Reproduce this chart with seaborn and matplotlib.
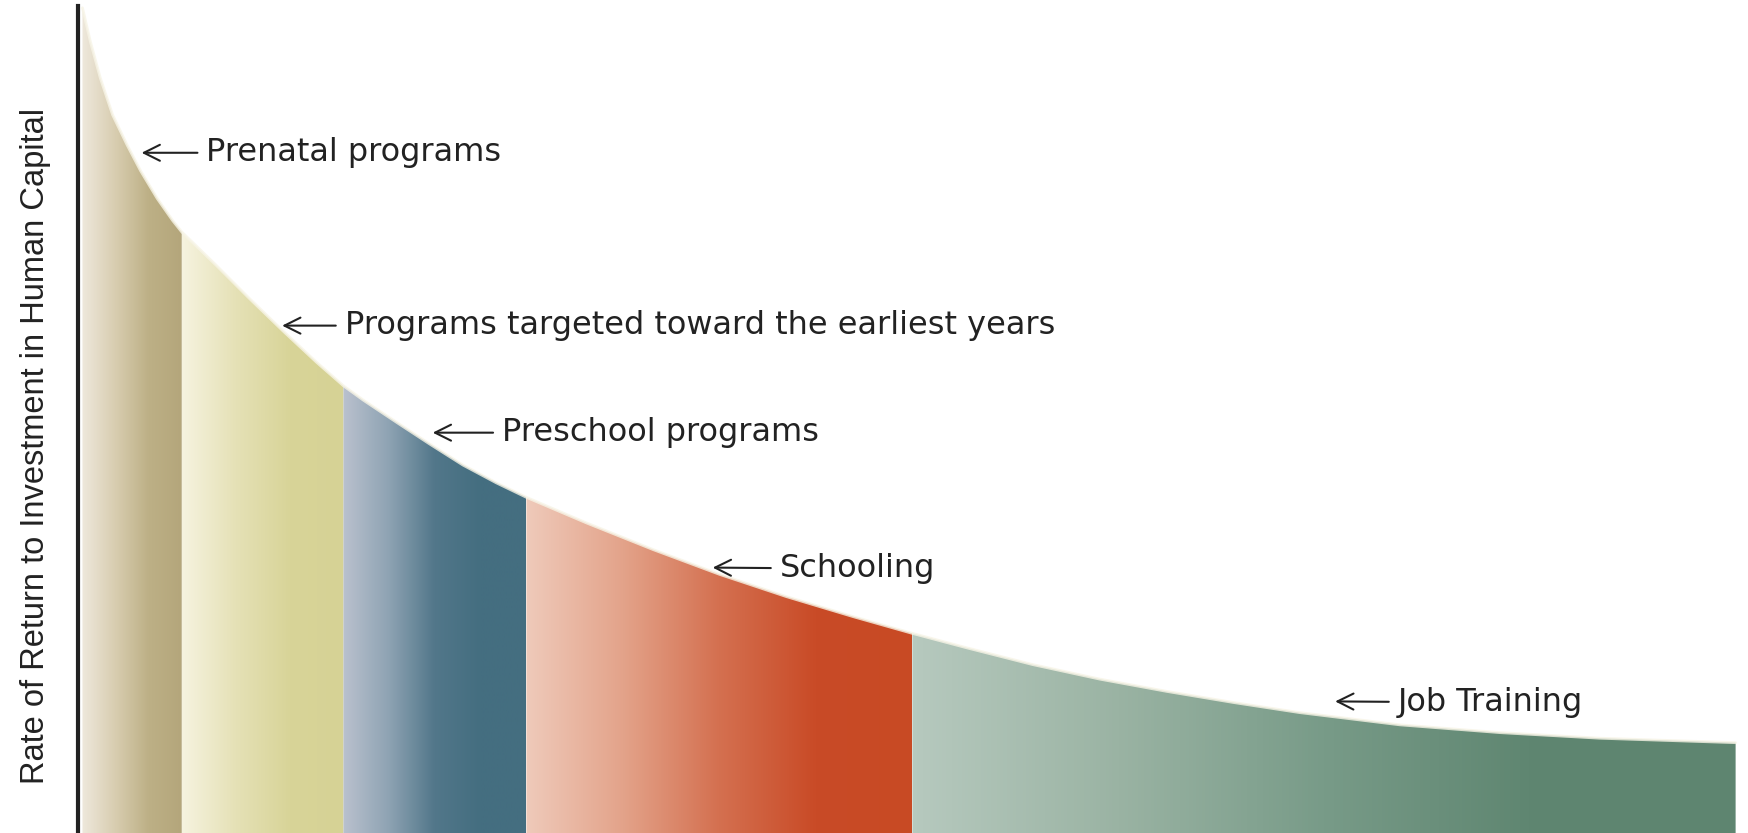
import numpy as np
import matplotlib
matplotlib.use("Agg")
import matplotlib.pyplot as plt
from matplotlib.colors import LinearSegmentedColormap
import seaborn as sns

# curve (x = age scale, y = rate of return), arbitrary units
curve_x = [4, 11, 20, 31, 44, 56, 71, 85, 93, 124, 154, 184, 214, 238, 256, 286, 315,
           345, 375, 402, 456, 516, 575, 635, 695, 748, 797, 856, 916, 976, 1036, 1095,
           1185, 1275, 1364, 1486]
curve_y = [740, 710, 677, 644, 617, 594, 569, 549, 539, 509, 479, 450, 422, 401, 388, 368,
           349, 330, 314, 301, 278, 254, 232, 212, 194, 179, 166, 151, 138, 127, 117, 108,
           97, 90, 85, 81]

# program bands: start / end along the x scale
band_names = ["Prenatal programs", "Programs targeted toward the earliest years",
              "Preschool programs", "Schooling", "Job Training"]
band_start = [4, 93, 238, 402, 748]
band_end = [93, 238, 402, 748, 1486]

band_colors = [
    ["#eee8dc", "#d8cdb0", "#bdb086", "#b4a67b"],
    ["#f6f3df", "#e5e1b6", "#d8d498", "#d6d295"],
    ["#bac1ce", "#8ea3b3", "#52778a", "#446e80", "#446e80"],
    ["#efcaba", "#e3a38a", "#d47050", "#c94b27", "#c84a24"],
    ["#b6c9be", "#9ab3a3", "#789b88", "#5f8671", "#5e8570"],
]

# label positions (arrow tip near the curve, text start)
label_tip = [(57, 610), (183, 455), (318, 359), (569, 238), (1127, 118)]
label_txt = [(115, 610), (239, 455), (380, 359), (629, 237), (1183, 117)]

sns.set_style("white")
fig = plt.figure(figsize=(17.49, 8.33), dpi=100)
ax = fig.add_axes([0.0446, 0.0, 0.9554, 0.9933])

cx = np.array(curve_x)
cy = np.array(curve_y)
grad = np.linspace(0, 1, 256).reshape(1, -1)

for name, x0, x1, cols in zip(band_names, band_start, band_end, band_colors):
    m = (cx >= x0) & (cx <= x1)
    poly = ax.fill_between(cx[m], 0, cy[m], color="none", lw=0)
    cmap = LinearSegmentedColormap.from_list(name, cols)
    img = ax.imshow(grad, cmap=cmap, extent=(x0, x1, 0, cy[m].max()),
                    aspect="auto", interpolation="bilinear", origin="lower", zorder=1)
    img.set_clip_path(poly.get_paths()[0], transform=ax.transData)

# soft edge of the curve
sns.lineplot(x=curve_x, y=curve_y, ax=ax, color="#f7f4e6", lw=2, alpha=0.8, zorder=2)

for name, tip, txt in zip(band_names, label_tip, label_txt):
    ax.annotate(name, xy=tip, xytext=txt, ha="left", va="center",
                fontsize=23, color="#222222", family="DejaVu Sans",
                arrowprops=dict(arrowstyle="->,head_length=0.5,head_width=0.25",
                                color="#222222", lw=1.5, shrinkA=4, shrinkB=0))

ax.set_xlim(0, 1498)
ax.set_ylim(0, 742)
ax.set_xticks([])
ax.set_yticks([])
for s in ["top", "right", "bottom"]:
    ax.spines[s].set_visible(False)
ax.spines["left"].set_linewidth(3)
ax.spines["left"].set_color("#222222")

ax.set_ylabel("Rate of Return to Investment in Human Capital", fontsize=23.5,
              family="Liberation Sans", color="#222222")
ax.yaxis.set_label_coords(-0.016, 0.468)

fig.savefig("out.png", dpi=100)
